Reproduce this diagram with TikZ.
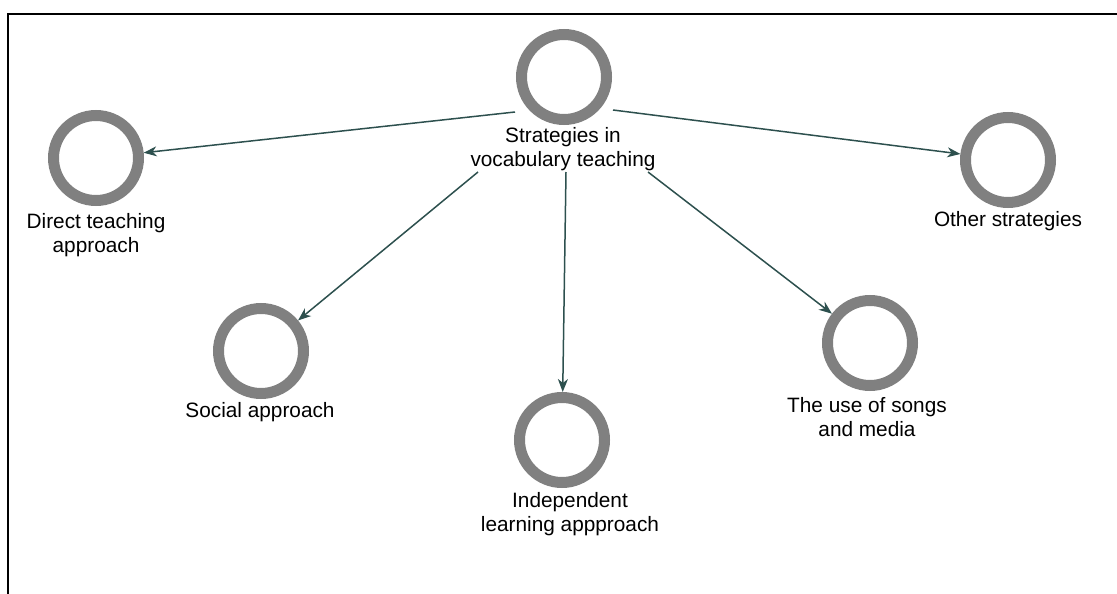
\documentclass[tikz,border=0pt]{standalone}
\usepackage{fontspec}
\setmainfont{Liberation Sans}
\usetikzlibrary{arrows.meta}
\definecolor{ringgray}{RGB}{128,128,128}
\definecolor{arrcol}{RGB}{45,80,78}
\tikzset{
  ring/.style={circle, draw=ringgray, line width=11pt, minimum size=85pt, inner sep=0pt},
  lbl/.style={align=center, font=\fontsize{20.8}{24}\selectfont, text=black, inner sep=0pt},
  arr/.style={draw=arrcol, line width=1.5pt, -{Stealth[length=13pt, width=10pt, inset=4pt]}},
  frame/.style={draw=black, line width=2pt}
}
\begin{document}
\begin{tikzpicture}[x=1pt, y=-1pt]
\useasboundingbox (0,0) rectangle (1117,594);
\coordinate (fl) at (8,594);
\coordinate (fc) at (8,14);
\coordinate (fr) at (1117,14);
\draw[frame] (fl) -- (fc) -- (fr);

\node[ring] (top) at (564,77) {};
\node[ring] (direct) at (96,158) {};
\node[ring] (other) at (1008,160) {};
\node[ring] (social) at (261,351) {};
\node[ring] (indep) at (562,440) {};
\node[ring] (songs) at (870,343) {};

\node[lbl] (ltop) at (563,149) {Strategies in\\vocabulary teaching};
\node[lbl] (ldirect) at (96,235) {Direct teaching\\approach};
\node[lbl] (lother) at (1008,221) {Other strategies};
\node[lbl] (lsocial) at (260,412) {Social approach};
\node[lbl] (lindep) at (570,514) {Independent\\learning appproach};
\node[lbl] (lsongs) at (867,417) {The use of songs\\and media};

\coordinate (s1) at (515,112);
\coordinate (s2) at (613,110);
\coordinate (s3) at (478,172);
\coordinate (s4) at (566,172);
\coordinate (s5) at (648,172);

\draw[arr] (s1) -- (direct);
\draw[arr] (s2) -- (other);
\draw[arr] (s3) -- (social);
\draw[arr] (s4) -- (indep);
\draw[arr] (s5) -- (songs);
\end{tikzpicture}
\end{document}
